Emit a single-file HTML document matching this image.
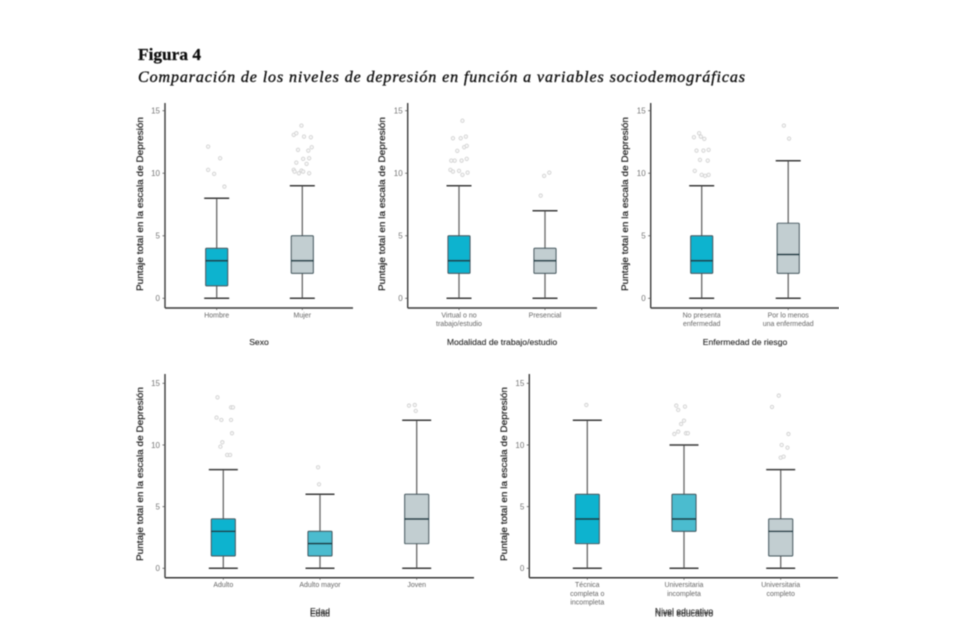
<!DOCTYPE html>
<html lang="es">
<head>
<meta charset="utf-8">
<title>Figura 4</title>
<style>
  html, body { margin: 0; padding: 0; background: #fff; }
  svg { display: block; }
  text { font-family: "Liberation Sans", sans-serif; }
  .serif { font-family: "Liberation Serif", serif; fill: #111; stroke: #111; }
</style>
</head>
<body>
<svg id="figure" width="954" height="641" viewBox="0 0 954 641" xmlns="http://www.w3.org/2000/svg">
  <defs>
    <filter id="soft" x="0" y="0" width="100%" height="100%">
      <feGaussianBlur stdDeviation="0.45"></feGaussianBlur>
    </filter>
  </defs>
  <rect width="954" height="641" fill="#fff"></rect>
  <g id="root" filter="url(#soft)">
    <text class="serif" x="138" y="60" font-size="17" font-weight="bold" stroke-width="0.25" textLength="63" lengthAdjust="spacingAndGlyphs">Figura 4</text>
    <text class="serif" x="138" y="82" font-size="16" font-style="italic" stroke-width="0.35" textLength="607" lengthAdjust="spacing">Comparación de los niveles de depresión en función a variables sociodemográficas</text>
  </g>
</svg>
<script>
// ---------- shared axis data ----------
const yTickValues = [0, 5, 10, 15];
const yAxisLabel = 'Puntaje total en la escala de Depresión';

// ---------- Sexo ----------
const sexoCategories = ['Hombre', 'Mujer'];
const sexoWhiskerLow = [0, 0];
const sexoQ1 = [1, 2];
const sexoMedian = [3, 3];
const sexoQ3 = [4, 5];
const sexoWhiskerHigh = [8, 9];
const sexoOutlierValues = [
  [12.13, 11.2, 10.27, 9.95, 8.93],
  [13.81, 13.07, 13.2, 12.93, 12.88, 11.87, 12.08, 11.81, 10.85, 11.15, 11.2, 10.75, 10.27, 10.13, 10.21, 10.13, 10, 10]
];
const sexoOutlierJitter = [
  [-0.10, 0.04, -0.10, -0.03, 0.09],
  [-0.01, -0.10, -0.07, 0.02, 0.10, -0.05, 0.11, 0.07, -0.07, 0.01, 0.08, 0.05, -0.10, -0.09, -0.01, 0.01, 0.08, -0.04]
];

// ---------- Modalidad ----------
const modalidadCategories = ['Virtual o no\ntrabajo/estudio', 'Presencial'];
const modalidadWhiskerLow = [0, 0];
const modalidadQ1 = [2, 2];
const modalidadMedian = [3, 3];
const modalidadQ3 = [5, 4];
const modalidadWhiskerHigh = [9, 7];
const modalidadOutlierValues = [
  [14.2, 12.8, 12.8, 12.93, 11.79, 12.08, 12.19, 11.01, 11.01, 11.01, 11.15, 10.27, 10.13, 10.19, 9.87, 10.05],
  [9.79, 10.05, 8.21]
];
const modalidadOutlierJitter = [
  [0.04, -0.07, 0.02, 0.08, -0.02, 0.06, 0.09, -0.09, -0.05, 0.03, 0.09, -0.10, -0.07, 0, 0.04, 0.10],
  [-0.01, 0.05, -0.05]
];

// ---------- Enfermedad ----------
const enfermedadCategories = ['No presenta\nenfermedad', 'Por lo menos\nuna enfermedad'];
const enfermedadWhiskerLow = [0, 0];
const enfermedadQ1 = [2, 2];
const enfermedadMedian = [3, 3.5];
const enfermedadQ3 = [5, 6];
const enfermedadWhiskerHigh = [9, 11];
const enfermedadOutlierValues = [
  [12.88, 13.2, 12.93, 12.75, 11.81, 11.81, 11.87, 11.07, 11.01, 10.19, 9.87, 9.79, 9.87],
  [13.81, 12.77]
];
const enfermedadOutlierJitter = [
  [-0.09, -0.03, -0.01, 0.03, -0.06, 0.02, 0.08, -0.02, 0.07, -0.08, 0, 0.04, 0.08],
  [-0.05, 0.01]
];

// ---------- Edad ----------
const edadCategories = ['Adulto', 'Adulto mayor', 'Joven'];
const edadWhiskerLow = [0, 0, 0];
const edadQ1 = [1, 1, 2];
const edadMedian = [3, 2, 4];
const edadQ3 = [4, 3, 6];
const edadWhiskerHigh = [8, 6, 12];
const edadOutlierValues = [
  [13.86, 13.05, 13.05, 12.22, 12.03, 12.03, 10.95, 10.22, 9.86, 9.19, 9.19],
  [8.19, 6.81],
  [13.19, 13.24, 12.76]
];
const edadOutlierJitter = [
  [-0.06, 0.08, 0.10, -0.07, -0.02, 0.08, 0.09, -0.01, -0.03, 0.04, 0.07],
  [-0.02, -0.01],
  [-0.08, -0.02, -0.01]
];

// ---------- Nivel educativo ----------
const nivelCategories = ['Técnica\ncompleta o\nincompleta', 'Universitaria\nincompleta', 'Universitaria\ncompleto'];
const nivelWhiskerLow = [0, 0, 0];
const nivelQ1 = [2, 3, 1];
const nivelMedian = [4, 4, 3];
const nivelQ3 = [6, 6, 4];
const nivelWhiskerHigh = [12, 10, 8];
const nivelOutlierValues = [
  [13.24],
  [13.19, 12.84, 13.11, 11.97, 11.7, 10.89, 11.08, 10.95, 10.95],
  [14, 13.08, 10.89, 10, 9.78, 8.97, 9.05]
];
const nivelOutlierJitter = [
  [-0.01],
  [-0.08, -0.06, 0.01, 0, -0.03, -0.10, -0.06, 0.02, 0.04],
  [-0.02, -0.09, 0.08, 0.01, 0.07, 0, 0.03]
];

// ---------- drawing ----------
const NS = 'http://www.w3.org/2000/svg';
const root = document.getElementById('root');

function make(parent, tag, props) {
  const el = document.createElementNS(NS, tag);
  for (const k in props) el.setAttribute(k, props[k]);
  parent.appendChild(el);
  return el;
}

function drawPanel(name, p, d) {
  const group = make(root, 'g', {});
  
  

  const yScale = v => p.y0 - v * (p.y0 - p.y15) / 15;
  const xScale = i => p.x0 + i * p.step;

  // y axis
  const yLine = make(group, 'line', { x1: p.left, x2: p.left, y1: p.top, y2: p.bottom, stroke: '#3a3a3a', 'stroke-width': 1.4 });
  
  

  // x axis
  const xLine = make(group, 'line', { x1: p.left, x2: p.right, y1: p.bottom, y2: p.bottom, stroke: '#3a3a3a', 'stroke-width': 1.5 });
  
  

  yTickValues.forEach(t => {
    const tick = make(group, 'line', { x1: p.left - 2.5, x2: p.left, y1: yScale(t), y2: yScale(t), stroke: '#555', 'stroke-width': 0.8 });
    
    
    const lab = make(group, 'text', { x: p.left - 5, y: yScale(t) + 2.8, 'text-anchor': 'end', 'font-size': 8, fill: '#777' });
    lab.textContent = t;
    
    
  });

  // y title
  const cy = p.titleY;
  const yTitle = make(group, 'text', {
    transform: 'translate(' + p.titleX + ',' + cy + ') rotate(-90)',
    'text-anchor': 'middle', 'font-size': 9, fill: '#222', stroke: '#222', 'stroke-width': 0.2, textLength: 174, lengthAdjust: 'spacingAndGlyphs'
  });
  yTitle.textContent = yAxisLabel;
  
  

  // x title
  const titles = p.doubled ? [0, p.doubled] : [0];
  titles.forEach(off => {
    const xTitle = make(group, 'text', { x: p.xTitleX, y: p.xTitleY + off, 'text-anchor': 'middle', 'font-size': 8.6, fill: '#2a2a2a', stroke: '#2a2a2a', 'stroke-width': 0.12 });
    xTitle.textContent = d.title;
    
    
  });

  d.categories.forEach((cat, i) => {
    const cx = xScale(i);

    const xTick = make(group, 'line', { x1: cx, x2: cx, y1: p.bottom, y2: p.bottom + 2, stroke: '#555', 'stroke-width': 0.8 });
    
    

    cat.split('\n').forEach((line, n) => {
      const lab = make(group, 'text', { x: cx, y: p.bottom + 9.5 + n * 8.6, 'text-anchor': 'middle', 'font-size': 7, fill: '#666' });
      lab.textContent = line;
      
      
    });

    // whisker stem
    const stem = make(group, 'line', { x1: cx, x2: cx, y1: yScale(d.high[i]), y2: yScale(d.low[i]), stroke: '#707070', 'stroke-width': 1.4 });
    
    

    [d.high[i], d.low[i]].forEach(v => {
      const cap = make(group, 'line', { x1: cx - p.capW / 2, x2: cx + p.capW / 2, y1: yScale(v), y2: yScale(v), stroke: '#3a3a3a', 'stroke-width': 1.5 });
      
      
    });

    // box
    const box = make(group, 'rect', {
      x: cx - p.boxW / 2, y: yScale(d.q3[i]), width: p.boxW, height: yScale(d.q1[i]) - yScale(d.q3[i]),
      fill: p.fills[i], stroke: '#3f555c', 'stroke-width': 1.1, rx: 0.8
    });
    
    

    const med = make(group, 'line', { x1: cx - p.boxW / 2, x2: cx + p.boxW / 2, y1: yScale(d.median[i]), y2: yScale(d.median[i]), stroke: '#1d4049', 'stroke-width': 1.7 });
    
    

    d.outVals[i].forEach((v, k) => {
      const dot = make(group, 'circle', { cx: cx + d.outJit[i][k] * p.step, cy: yScale(v), r: 1.7, fill: '#f7f7f7', stroke: '#cdcdcd', 'stroke-width': 0.8 });
      
      
    });
  });
}

const CYAN = '#08b3cf', CYAN2 = '#4cbccf', GREY = '#c2ced1';

drawPanel('sexo',
  { left: 165, right: 353, top: 103, bottom: 308, y0: 298.3, y15: 110.7, x0: 216.7, step: 85.6, boxW: 22, capW: 25,
    titleX: 143, titleY: 204, xTitleX: 259, xTitleY: 345, fills: [CYAN, GREY] },
  { title: 'Sexo', categories: sexoCategories, low: sexoWhiskerLow, q1: sexoQ1, median: sexoMedian, q3: sexoQ3, high: sexoWhiskerHigh, outVals: sexoOutlierValues, outJit: sexoOutlierJitter });

drawPanel('modalidad',
  { left: 407.7, right: 597, top: 103, bottom: 308, y0: 298.3, y15: 110.7, x0: 459, step: 86, boxW: 22, capW: 25,
    titleX: 385, titleY: 204, xTitleX: 502, xTitleY: 345, fills: [CYAN, GREY] },
  { title: 'Modalidad de trabajo/estudio', categories: modalidadCategories, low: modalidadWhiskerLow, q1: modalidadQ1, median: modalidadMedian, q3: modalidadQ3, high: modalidadWhiskerHigh, outVals: modalidadOutlierValues, outJit: modalidadOutlierJitter });

drawPanel('enfermedad',
  { left: 650.7, right: 839, top: 103, bottom: 308, y0: 298.3, y15: 110.7, x0: 701.7, step: 86.5, boxW: 22, capW: 25,
    titleX: 628, titleY: 204, xTitleX: 745, xTitleY: 345, fills: [CYAN, GREY] },
  { title: 'Enfermedad de riesgo', categories: enfermedadCategories, low: enfermedadWhiskerLow, q1: enfermedadQ1, median: enfermedadMedian, q3: enfermedadQ3, high: enfermedadWhiskerHigh, outVals: enfermedadOutlierValues, outJit: enfermedadOutlierJitter });

drawPanel('edad',
  { left: 165, right: 474, top: 374, bottom: 577.7, y0: 568.3, y15: 383.3, x0: 223.3, step: 96.7, boxW: 24, capW: 29,
    titleX: 143, titleY: 474, xTitleX: 320, xTitleY: 614, doubled: 2.5, fills: [CYAN, CYAN2, GREY] },
  { title: 'Edad', categories: edadCategories, low: edadWhiskerLow, q1: edadQ1, median: edadMedian, q3: edadQ3, high: edadWhiskerHigh, outVals: edadOutlierValues, outJit: edadOutlierJitter });

drawPanel('nivel-educativo',
  { left: 529.3, right: 838, top: 374, bottom: 577.7, y0: 568.3, y15: 383.3, x0: 587.3, step: 96.7, boxW: 24, capW: 29,
    titleX: 507, titleY: 474, xTitleX: 684, xTitleY: 614, doubled: 2.5, fills: [CYAN, CYAN2, GREY] },
  { title: 'Nivel educativo', categories: nivelCategories, low: nivelWhiskerLow, q1: nivelQ1, median: nivelMedian, q3: nivelQ3, high: nivelWhiskerHigh, outVals: nivelOutlierValues, outJit: nivelOutlierJitter });
</script>
</body>
</html>
